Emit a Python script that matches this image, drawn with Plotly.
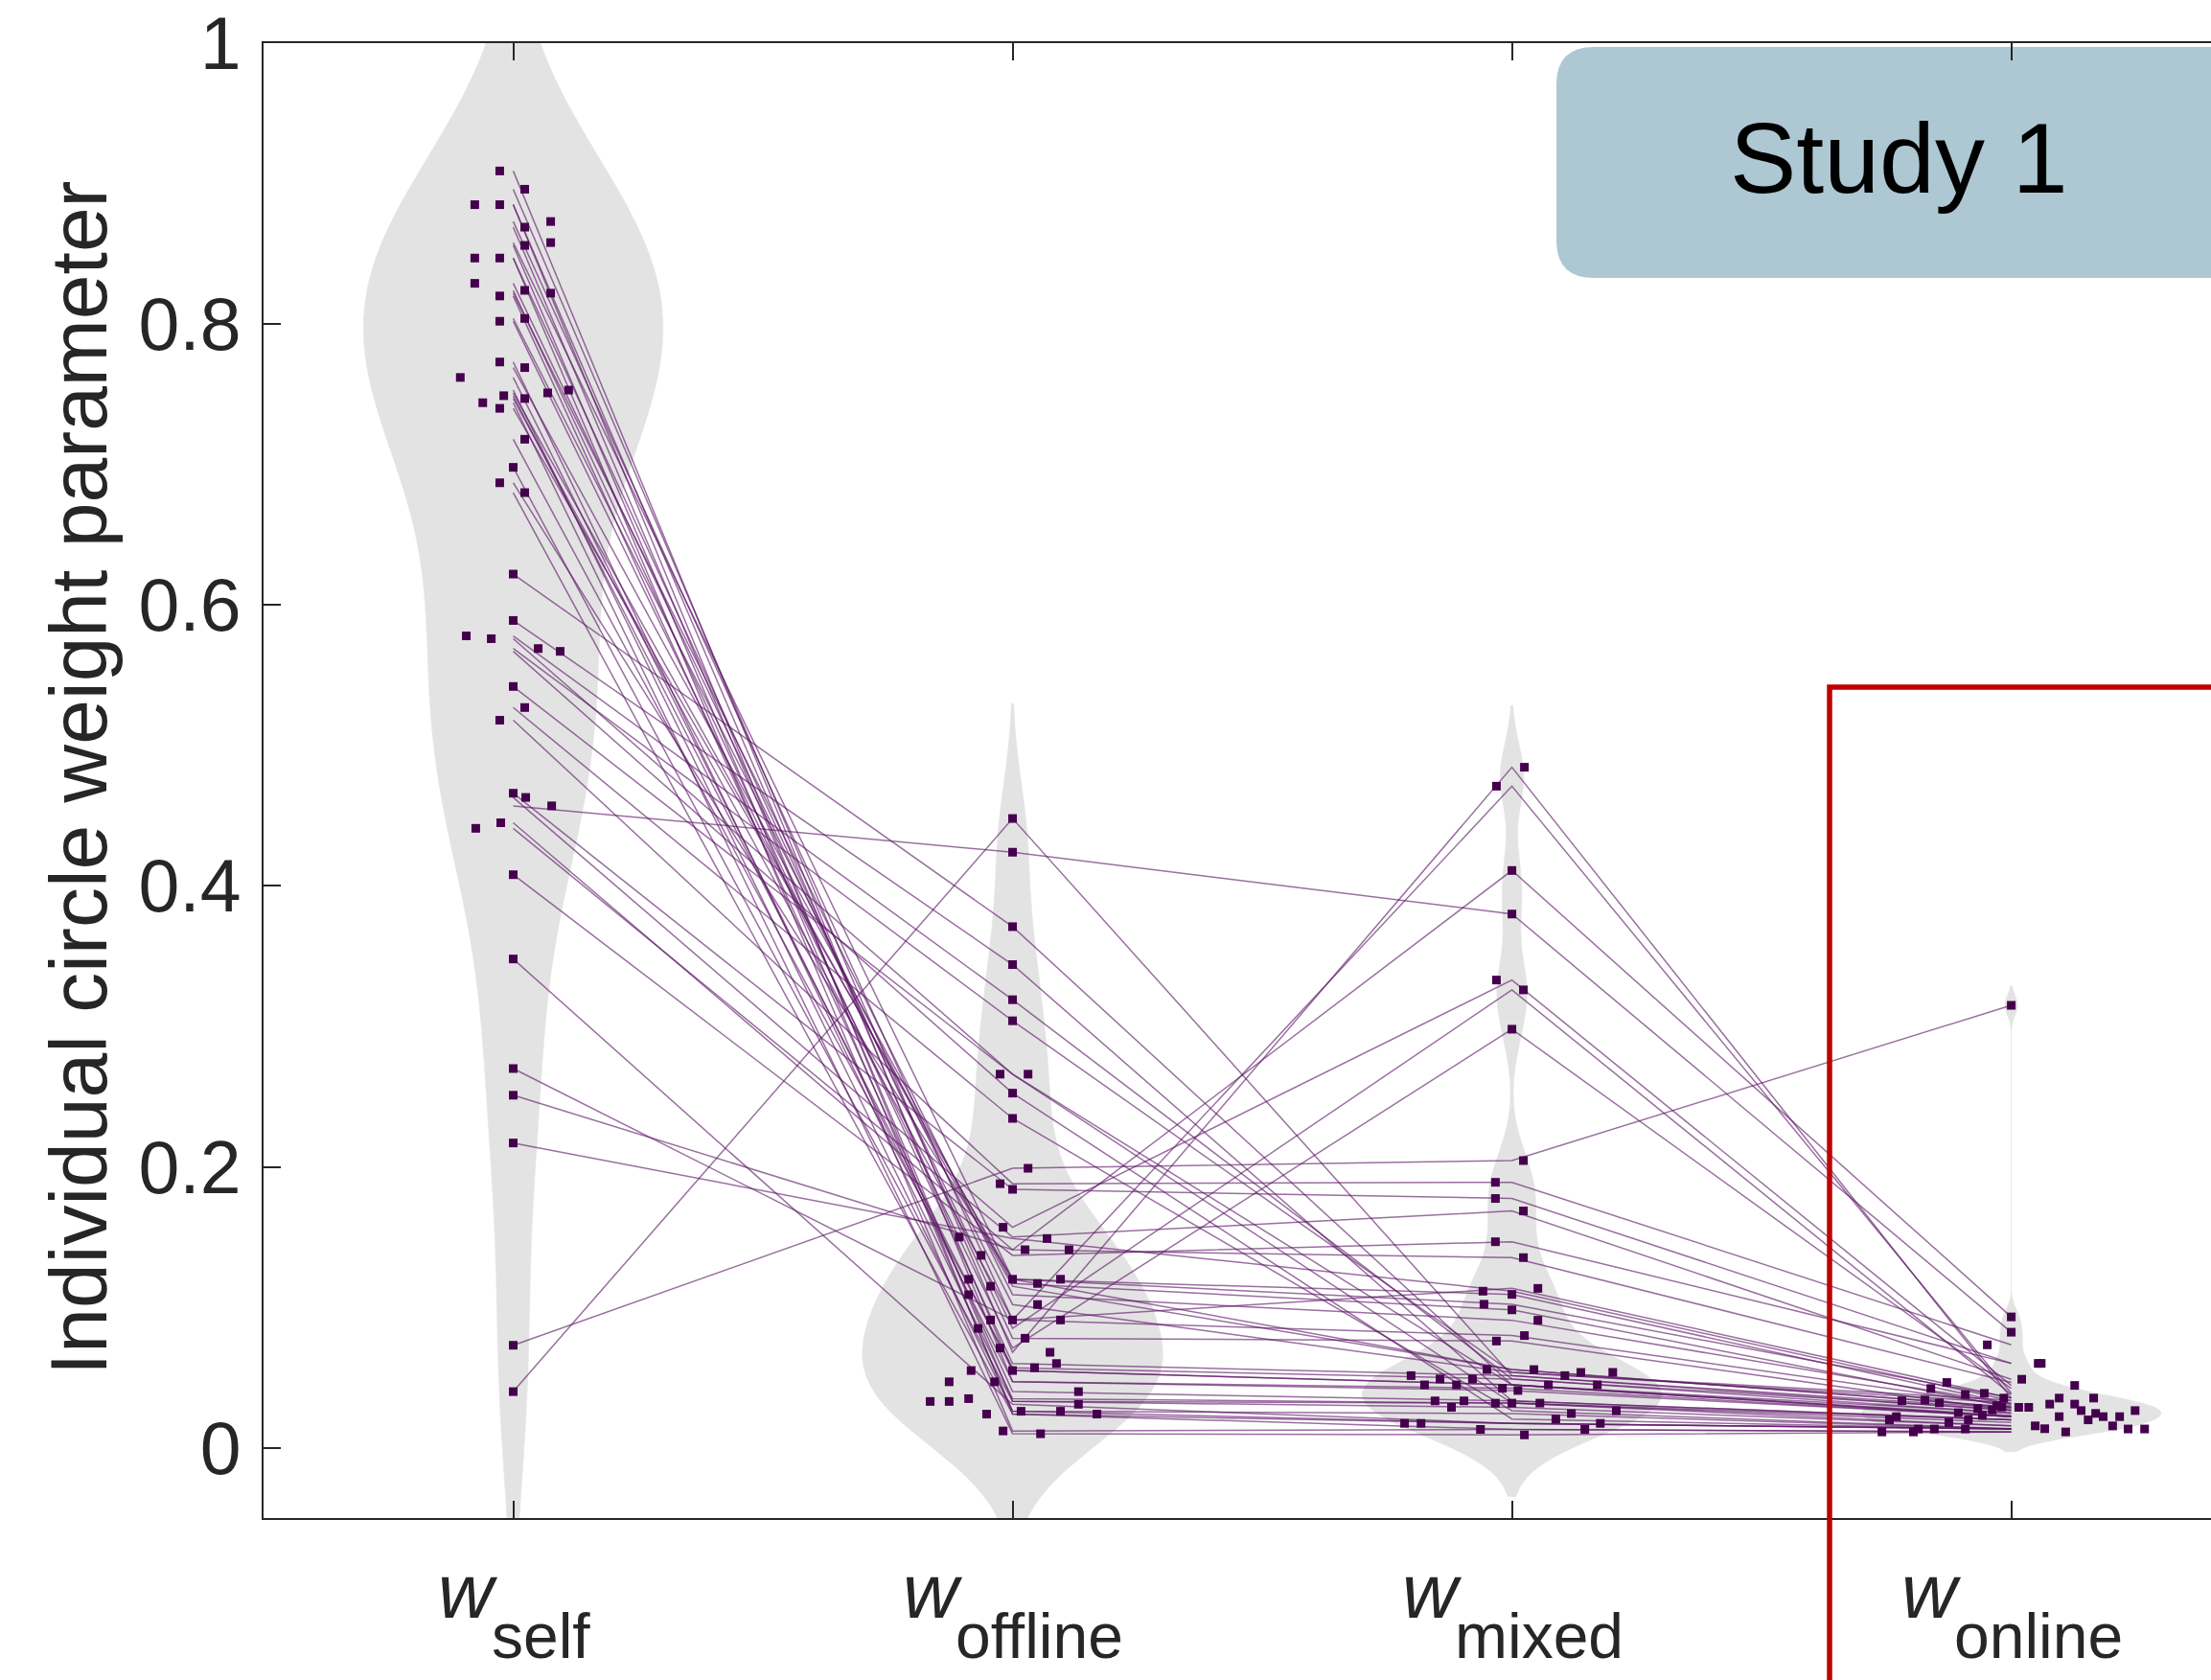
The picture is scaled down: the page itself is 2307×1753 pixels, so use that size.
import plotly.graph_objects as go

# ---- data: one entry per participant, same order in every list ----
categories = ["self", "offline", "mixed", "online"]
positions = [1, 2, 3, 4]

w_self = [0.909, 0.896, 0.885, 0.885, 0.873, 0.869, 0.858, 0.856, 0.847, 0.847,
          0.829, 0.824, 0.822, 0.820, 0.804, 0.802, 0.773, 0.769, 0.762, 0.753,
          0.751, 0.749, 0.747, 0.744, 0.740, 0.718, 0.698, 0.687, 0.680,
          0.622, 0.589, 0.578, 0.576, 0.569, 0.567, 0.542, 0.527, 0.518,
          0.466, 0.463, 0.457, 0.445, 0.441, 0.408, 0.348, 0.270, 0.251, 0.217, 0.073, 0.040]

w_offline = [0.047, 0.068, 0.024, 0.055, 0.091, 0.033, 0.120, 0.026, 0.078, 0.012,
             0.085, 0.060, 0.109, 0.040, 0.102, 0.071, 0.035, 0.117, 0.047, 0.026,
             0.115, 0.055, 0.091, 0.010, 0.120, 0.057, 0.033, 0.120, 0.024,
             0.371, 0.344, 0.319, 0.266, 0.304, 0.2525, 0.266, 0.2345, 0.188,
             0.184, 0.157, 0.424, 0.141, 0.150, 0.137, 0.031, 0.091, 0.141, 0.149, 0.199, 0.448]

w_mixed = [0.0424, 0.4845, 0.0174, 0.0448, 0.471, 0.0318, 0.1092, 0.0244, 0.076, 0.0131,
           0.326, 0.0514, 0.0908, 0.0334, 0.0537, 0.298, 0.0318, 0.0982, 0.0408, 0.0174,
           0.0557, 0.0448, 0.0799, 0.0092, 0.1022, 0.049, 0.0288, 0.0557, 0.0131,
           0.0448, 0.0334, 0.049, 0.0318, 0.0537, 0.0205, 0.0448, 0.0264, 0.189,
           0.1775, 0.333, 0.380, 0.411, 0.1686, 0.1467, 0.0174, 0.1135, 0.1354, 0.1115, 0.2045, 0.0514]

w_online = [0.0222, 0.0354, 0.0134, 0.025, 0.0388, 0.0199, 0.0311, 0.0134, 0.0265, 0.0113,
            0.0379, 0.028, 0.0311, 0.020, 0.032, 0.0422, 0.018, 0.0288, 0.0222, 0.0134,
            0.0288, 0.0222, 0.030, 0.0113, 0.0354, 0.027, 0.0156, 0.029, 0.0113,
            0.023, 0.0199, 0.0245, 0.0156, 0.034, 0.0134, 0.0222, 0.0136, 0.0733,
            0.0601, 0.0444, 0.0823, 0.0932, 0.0488, 0.0601, 0.0134, 0.0354, 0.0465, 0.0335, 0.315, 0.0265]

# horizontal scatter jitter of each point (in category units)
jit_self = [-0.027, 0.023, -0.077, -0.027, 0.075, 0.023, 0.075, 0.023, -0.077, -0.027,
            -0.077, 0.023, 0.075, -0.027, 0.023, -0.027, -0.027, 0.023, -0.106, 0.111,
            0.069, -0.019, 0.023, -0.061, -0.027, 0.023, 0.0, -0.027, 0.023,
            0.0, 0.0, -0.094, -0.044, 0.050, 0.094, 0.0, 0.023, -0.027,
            0.0, 0.025, 0.077, -0.025, -0.075, 0.0, 0.0, 0.0, 0.0, 0.0, 0.0, 0.0]

jit_offline = [-0.036, 0.075, 0.169, 0.0, 0.0, -0.165, 0.0, 0.017, 0.025, -0.019,
               -0.069, 0.088, -0.088, 0.132, 0.050, -0.025, -0.088, 0.050, -0.127, 0.096,
               -0.044, -0.083, -0.044, 0.056, -0.088, 0.044, -0.127, 0.096, -0.052,
               0.0, 0.0, 0.0, -0.025, 0.0, 0.0, 0.031, 0.0, -0.025,
               0.0, -0.019, 0.0, 0.025, -0.107, -0.063, 0.132, 0.096, 0.113, 0.069, 0.031, 0.0]

jit_mixed = [-0.019, 0.025, -0.215, -0.175, -0.031, -0.033, 0.0, 0.119, -0.031, -0.063,
             0.023, -0.202, 0.052, -0.154, 0.138, 0.0, 0.0, 0.0, 0.012, -0.182,
             -0.050, 0.171, 0.025, 0.025, -0.056, -0.079, -0.121, 0.044, 0.146,
             0.073, -0.096, -0.144, 0.056, 0.202, 0.088, -0.111, 0.209, -0.033,
             -0.033, -0.031, 0.0, 0.0, 0.023, -0.033, 0.177, 0.052, 0.023, -0.058, 0.023, 0.106]

jit_online = [0.096, -0.015, -0.186, -0.106, -0.054, -0.244, 0.077, 0.234, 0.248, 0.109,
              -0.092, -0.067, 0.127, -0.086, -0.144, -0.161, -0.125, 0.015, -0.230, -0.154,
              0.035, 0.184, -0.029, -0.196, 0.165, -0.038, 0.203, -0.019, -0.259,
              -0.058, 0.154, 0.169, 0.048, -0.173, 0.267, 0.217, 0.067, -0.048,
              0.054, 0.127, 0.0, 0.0, 0.021, 0.060, -0.092, 0.096, -0.129, -0.219, 0.0, 0.140]

y_ticks = [0, 0.2, 0.4, 0.6, 0.8, 1]
y_ticktext = ["0", "0.2", "0.4", "0.6", "0.8", "1"]
y_title = "Individual circle weight parameter"
panel_label = "Study 1"

series = [w_self, w_offline, w_mixed, w_online]
jitters = [jit_self, jit_offline, jit_mixed, jit_online]
bandwidths = [0.085, 0.041, 0.022, 0.007]

# ---- style ----
FONT = "Liberation Sans, Arial, Helvetica, sans-serif"
AXIS_COLOR = "#262626"
VIOLIN_FILL = "#e3e3e3"
LINE_COLOR = "rgba(92,22,102,0.62)"
MARKER_COLOR = "#45004d"

W, H = 2307, 1753
M_L, M_R, M_T, M_B = 275, 0, 45, 169
PLOT_W = W - M_L - M_R
PLOT_H = H - M_T - M_B


def px_x(px):
    """figure pixel column -> paper x"""
    return (px - M_L) / PLOT_W


def px_y(px):
    """figure pixel row -> paper y"""
    return (H - M_B - px) / PLOT_H


fig = go.Figure()

# density shapes
for pos, vals, bw in zip(positions, series, bandwidths):
    fig.add_trace(go.Violin(
        x0=pos, y=vals, bandwidth=bw, spanmode="soft",
        width=0.6, scalemode="width",
        fillcolor=VIOLIN_FILL, line=dict(color=VIOLIN_FILL, width=0.5),
        points=False, box_visible=False, meanline_visible=False,
        hoverinfo="skip", showlegend=False,
    ))

# one connecting line per participant
for vals in zip(*series):
    fig.add_trace(go.Scatter(
        x=positions, y=list(vals), mode="lines",
        line=dict(color=LINE_COLOR, width=1.5),
        hoverinfo="skip", showlegend=False,
    ))

# jittered individual points
for pos, vals, jit in zip(positions, series, jitters):
    fig.add_trace(go.Scatter(
        x=[pos + j for j in jit], y=vals, mode="markers",
        marker=dict(symbol="square", size=9, color=MARKER_COLOR, line=dict(width=0)),
        hoverinfo="skip", showlegend=False,
    ))

axis_common = dict(
    showline=True, linewidth=2, linecolor=AXIS_COLOR,
    ticks="inside", ticklen=18, tickwidth=2, tickcolor=AXIS_COLOR,
    showgrid=False, zeroline=False, automargin=False,
)

fig.update_xaxes(range=[0.5, 4.4], tickvals=positions, showticklabels=False,
                 mirror="ticks", **axis_common)
fig.update_yaxes(range=[-0.05, 1.0], tickvals=y_ticks, ticktext=y_ticktext,
                 tickfont=dict(family=FONT, size=77, color=AXIS_COLOR),
                 ticklabelstandoff=6, mirror=False, **axis_common)

# category labels: italic w with a subscript, centred on each tick
char_em = {"s": 0.5, "e": 0.556, "l": 0.222, "f": 0.278, "o": 0.556, "i": 0.222,
           "n": 0.556, "m": 0.833, "x": 0.5, "d": 0.556}
W_SIZE, SUB_SIZE = 80, 66
w_adv = 0.722 * W_SIZE
annotations = []
for pos, cat in zip(positions, categories):
    sub_w = sum(char_em[c] for c in cat) * SUB_SIZE
    left = -(w_adv + sub_w) / 2
    annotations.append(dict(
        x=pos, xref="x", y=0, yref="paper", xanchor="left", yanchor="top",
        xshift=left, yshift=-30, text="<i>w</i>", showarrow=False,
        font=dict(family=FONT, size=W_SIZE, color=AXIS_COLOR),
    ))
    annotations.append(dict(
        x=pos, xref="x", y=0, yref="paper", xanchor="left", yanchor="top",
        xshift=left + w_adv - 2, yshift=-84, text=cat, showarrow=False,
        font=dict(family=FONT, size=SUB_SIZE, color=AXIS_COLOR),
    ))

# y-axis title
annotations.append(dict(
    x=px_x(82), xref="paper", y=px_y(812), yref="paper",
    xanchor="center", yanchor="middle", textangle=-90,
    text=y_title, showarrow=False,
    font=dict(family=FONT, size=84, color=AXIS_COLOR),
))

# panel label
annotations.append(dict(
    x=px_x(1981), xref="paper", y=px_y(165), yref="paper",
    xanchor="center", yanchor="middle",
    text=panel_label, showarrow=False,
    font=dict(family=FONT, size=104, color="black"),
))

# rounded panel-label box (runs off the right edge)
bx0, bx1 = px_x(1624), 1.05
byt, byb = px_y(49), px_y(290)
rx, ry = 39 / PLOT_W, 39 / PLOT_H
box_path = (f"M {bx0 + rx},{byt} L {bx1},{byt} L {bx1},{byb} L {bx0 + rx},{byb} "
            f"Q {bx0},{byb} {bx0},{byb + ry} L {bx0},{byt - ry} Q {bx0},{byt} {bx0 + rx},{byt} Z")

shapes = [
    dict(type="path", path=box_path, xref="paper", yref="paper",
         fillcolor="#adc8d2", line=dict(width=0), layer="below"),
    dict(type="rect", xref="paper", yref="paper",
         x0=px_x(1909), x1=1.2, y0=-0.3, y1=px_y(717),
         line=dict(color="#c00000", width=5.5), fillcolor="rgba(0,0,0,0)", layer="above"),
]

fig.update_layout(
    template="none",
    width=W, height=H,
    margin=dict(l=M_L, r=M_R, t=M_T, b=M_B, pad=0),
    plot_bgcolor="white", paper_bgcolor="white",
    showlegend=False, violinmode="overlay",
    font=dict(family=FONT, color=AXIS_COLOR),
    annotations=annotations, shapes=shapes,
)

fig.write_html("out.html")
